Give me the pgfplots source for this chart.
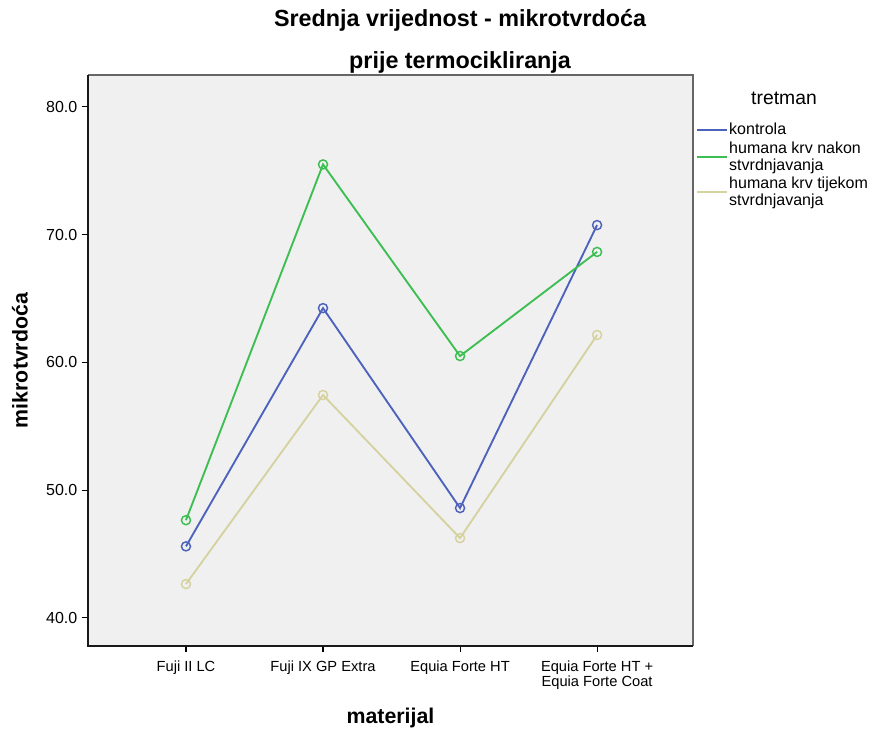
\documentclass[border=0pt]{standalone}
\usepackage{fontspec}
\setmainfont{Liberation Sans}
\usepackage{pgfplots}
\pgfplotsset{compat=1.18}

\definecolor{kontrola}{HTML}{4D62BD}
\definecolor{nakon}{HTML}{3DBE52}
\definecolor{tijekom}{HTML}{D6D2A0}
\definecolor{plotbg}{HTML}{F0F0F0}

\begin{document}
\begin{tikzpicture}
\begin{axis}[
    name=ax,
    scale only axis,
    width=453.75pt, height=428.25pt,
    xmin=-0.715, xmax=3.70,
    ymin=37.8, ymax=82.5,
    axis background/.style={fill=plotbg},
    axis line style={draw=none},
    xtick={0,1,2,3},
    xticklabels={Fuji II LC, Fuji IX GP Extra, Equia Forte HT, {Equia Forte HT +\\Equia Forte Coat}},
    x tick label style={align=center, font=\fontsize{11}{11}\selectfont, yshift=-3pt},
    ytick={40,50,60,70,80},
    y tick label style={font=\fontsize{12}{12}\selectfont},
    /pgf/number format/.cd, fixed, fixed zerofill, precision=1, assume math mode=true,
    /pgfplots/.cd,
    tick align=outside,
    major tick length=4.5pt,
    tick style={black, line width=0.8pt},
    xtick pos=bottom, ytick pos=left,
    xlabel={\bfseries materijal},
    ylabel={\bfseries mikrotvrdoća},
    label style={font=\fontsize{16}{16}\selectfont},
    xlabel style={at={(axis description cs:0.5,0)}, anchor=center, yshift=-54pt},
    ylabel style={at={(axis description cs:0,0.5)}, anchor=center, yshift=51pt},
    legend style={at={(axis description cs:1.005,0.918)}, anchor=north west,
        draw=none, fill=none, inner sep=0pt, row sep=2pt,
        font=\fontsize{12}{12.75}\selectfont,
        nodes={align=left, inner sep=0.8pt}},
    legend cell align=left,
    legend image code/.code={\draw[#1] (0pt,0pt) -- (22.5pt,0pt);},
    every axis plot/.append style={line width=1.4pt, mark=o, mark size=3.4pt, mark options={solid, line width=1.1pt}},
    clip=false,
]
\addplot[color=kontrola] coordinates {(0,45.6) (1,64.25) (2,48.6) (3,70.75)};
\addlegendentry{kontrola}
\addplot[color=nakon] coordinates {(0,47.65) (1,75.5) (2,60.5) (3,68.65)};
\addlegendentry{humana krv nakon\\stvrdnjavanja}
\addplot[color=tijekom] coordinates {(0,42.65) (1,57.45) (2,46.25) (3,62.15)};
\addlegendentry{humana krv tijekom\\stvrdnjavanja}

% frame: grey top/right, black left/bottom
\draw[color=black!60, line width=1.1pt] (rel axis cs:0,1) -- (rel axis cs:1,1) -- (rel axis cs:1,0);
\draw[color=black!90, line width=1.1pt] (rel axis cs:0,1) -- (rel axis cs:0,0) -- (rel axis cs:1,0);

\node[font=\fontsize{17.5}{17.5}\selectfont\bfseries, anchor=center] at ([yshift=41.25pt]axis description cs:0.615,1) {Srednja vrijednost - mikrotvrdoća};
\node[font=\fontsize{17.5}{17.5}\selectfont\bfseries, anchor=center] at ([yshift=9.75pt]axis description cs:0.615,1) {prije termocikliranja};
\node[font=\fontsize{14.5}{14.5}\selectfont, anchor=center] at ([xshift=68.25pt,yshift=-17.25pt]axis description cs:1,1) {tretman};
\end{axis}
\path ([xshift=-66pt,yshift=-65.25pt]ax.south west) ([xshift=134.25pt,yshift=56.25pt]ax.north east);
\end{tikzpicture}
\end{document}
